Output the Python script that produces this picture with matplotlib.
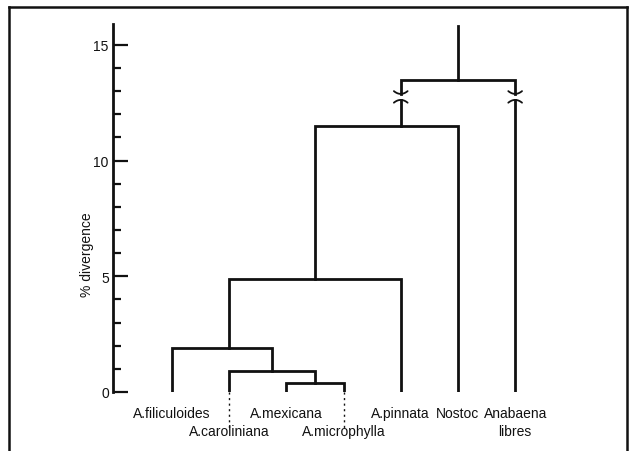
import matplotlib
matplotlib.use('Agg')
import matplotlib.pyplot as plt
from matplotlib.lines import Line2D
from matplotlib.ticker import MultipleLocator
import numpy as np

plt.rcParams['font.family'] = ['Liberation Sans', 'DejaVu Sans']

# leaves, left to right
taxa = ['A.filiculoides', 'A.caroliniana', 'A.mexicana', 'A.microphylla',
        'A.pinnata', 'Nostoc', 'Anabaena\nlibres']
label_row = [0, 1, 0, 1, 0, 0, 0]
dotted = [False, True, False, True, False, False, False]

# merges: node index = len(taxa) + k
merge_left = [2, 1, 0, 9, 10, 11]
merge_right = [3, 7, 8, 4, 5, 6]
merge_height = [0.4, 0.9, 1.9, 4.9, 11.5, 13.5]
# where the stem of each merge sits (leaf units) - as drawn in the figure
merge_stem = [2.5, 1.75, 1.0, 2.5, 4.0, 5.0]
root_top = 15.8
broken_merge = 5          # both branches of this merge are interrupted
break_lo, break_hi = 12.62, 12.88

LW = 2.0
INK = '#111111'

fig = plt.figure(figsize=(6.29, 4.52), dpi=100)
ax = fig.add_axes([113 / 629, 59 / 452, 1 - 113 / 629, 368 / 452])
ax.set_xlim(-1.03, 7.99)
ax.set_ylim(0, 15.9)

n = len(taxa)
pos = list(range(n)) + merge_stem
hgt = [0.0] * n + merge_height

def arc(xc, yc, up):
    dx = np.linspace(-0.12, 0.12, 20)
    dy = 0.12 * (dx / 0.12) ** 2
    ax.plot(xc + dx, yc + (dy if up else -dy), color=INK, lw=1.3,
            solid_capstyle='round')

for k in range(len(merge_height)):
    a, b, h = merge_left[k], merge_right[k], merge_height[k]
    xa, xb = pos[a], pos[b]
    if k == broken_merge:
        ax.plot([xa, xa, xb, xb], [break_hi, h, h, break_hi], color=INK, lw=LW,
                solid_joinstyle='miter')
        for c in (a, b):
            ax.plot([pos[c], pos[c]], [hgt[c], break_lo], color=INK, lw=LW)
            arc(pos[c], break_hi, True)
            arc(pos[c], break_lo, False)
    else:
        ax.plot([xa, xa, xb, xb], [hgt[a], h, h, hgt[b]], color=INK, lw=LW,
                solid_joinstyle='miter')

# root stem
top = len(pos) - 1
ax.plot([pos[top], pos[top]], [hgt[top], root_top], color=INK, lw=LW)

# dotted leaf extensions and labels
for i, name in enumerate(taxa):
    if dotted[i]:
        ax.plot([i, i], [0, -1.55], color=INK, lw=1.0, ls=(0, (1.5, 2.5)),
                clip_on=False)
    for j, line in enumerate(name.split('\n')):
        r = label_row[i] + j
        ax.annotate(line, xy=(i, 0), xytext=(0, -18 - 13 * r),
                    textcoords='offset points', ha='center', va='baseline',
                    fontsize=10, color=INK, annotation_clip=False)

for s in ('top', 'right', 'bottom'):
    ax.spines[s].set_visible(False)
ax.spines['left'].set_linewidth(2.0)
ax.spines['left'].set_color(INK)
ax.set_xticks([])
ax.yaxis.set_major_locator(MultipleLocator(5))
ax.yaxis.set_minor_locator(MultipleLocator(1))
ax.tick_params(axis='y', which='major', direction='in', length=11, width=1.6,
               pad=3, labelsize=10, colors=INK)
ax.tick_params(axis='y', which='minor', direction='in', length=6, width=1.6,
               colors=INK)
ax.set_ylabel('% divergence', fontsize=10, color=INK, va='center')
ax.yaxis.set_label_coords(-0.05, 0.375)

# page frame
for xs, ys in (([9 / 629, 9 / 629], [0, 444 / 452]),
               ([9 / 629, 627 / 629], [444 / 452, 444 / 452]),
               ([627 / 629, 627 / 629], [444 / 452, 0])):
    fig.add_artist(Line2D(xs, ys, color=INK, lw=1.8))

fig.savefig('out.png', dpi=100, facecolor='white')
